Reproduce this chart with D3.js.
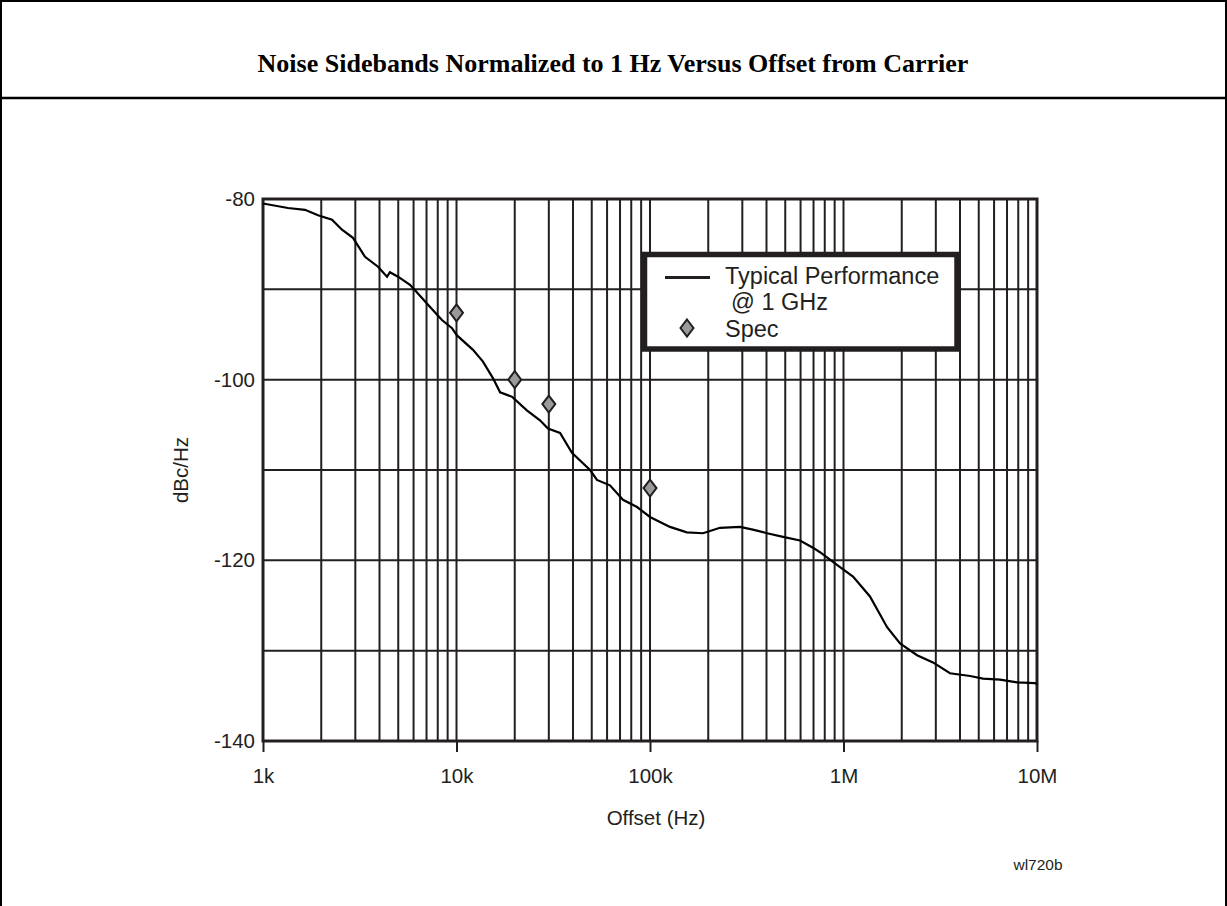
<!DOCTYPE html>
<html>
<head>
<meta charset="utf-8">
<script src="https://cdn.jsdelivr.net/npm/d3@7"></script>
<style>
  body { margin: 0; background: #fff; }
  svg { display: block; }
</style>
</head>
<body>
<svg id="chart"></svg>
<script>
// typical performance trace
var traceFreq = [1000, 1346, 1648, 1925, 2274, 2560, 2918, 3366, 3930, 4375, 4530, 4985, 5750, 6105, 7125,
    8410, 9480, 10060, 12170, 13700, 15400, 16800, 19400, 23100, 27000, 29700, 34300, 39500, 49000, 53200,
    62100, 72500, 85700, 100000, 126800, 155000, 188000, 230000, 292000, 340000, 403000, 487000, 596000,
    695000, 756000, 925000, 1120000, 1370000, 1680000, 1960000, 2400000, 2900000, 3550000, 4510000,
    5260000, 6440000, 7890000, 9770000, 10000000];
var traceDb = [-80.5, -81.0, -81.2, -81.8, -82.3, -83.4, -84.3, -86.4, -87.5, -88.6, -88.1, -88.6, -89.5, -90.1, -91.7,
    -93.4, -94.3, -95.1, -96.7, -98.0, -99.8, -101.4, -101.9, -103.4, -104.5, -105.4, -105.9, -108.1, -110.0, -111.1,
    -111.7, -113.3, -114.1, -115.2, -116.3, -116.9, -117.0, -116.4, -116.3, -116.6, -117.0, -117.4, -117.8,
    -118.6, -119.1, -120.5, -121.8, -124.0, -127.4, -129.2, -130.5, -131.3, -132.5, -132.8,
    -133.1, -133.2, -133.5, -133.6, -133.7];

var specFreq = [10000, 20000, 30000, 100000];
var specDb = [-92.6, -100.0, -102.7, -112.0];

var xTickValues = [1e3, 1e4, 1e5, 1e6, 1e7];
var xTickLabels = ["1k", "10k", "100k", "1M", "10M"];
var yTickValues = [-80, -100, -120, -140];
var yGridValues = [-90, -100, -110, -120, -130];

var W = 1227, H = 906;
var margin = {top: 199, left: 263, right: W - 1037, bottom: H - 741};
var plotW = W - margin.left - margin.right;
var plotH = H - margin.top - margin.bottom;
var ink = "#231f20";
var sans = "'Liberation Sans', Arial, sans-serif";

var svg = d3.select("#chart").attr("width", W).attr("height", H);

// outer frame and title strip
svg.append("rect")
    .attr("x", 1).attr("y", 1)
    .attr("width", W - 2).attr("height", H + 10)
    .attr("fill", "none").attr("stroke", "#000").attr("stroke-width", 2);
svg.append("line")
    .attr("x1", 0).attr("x2", W).attr("y1", 98).attr("y2", 98)
    .attr("stroke", "#000").attr("stroke-width", 2.5);
svg.append("text")
    .attr("x", 613).attr("y", 71.5)
    .attr("text-anchor", "middle")
    .attr("font-family", "'Liberation Serif', 'Times New Roman', serif")
    .attr("font-weight", "bold")
    .attr("font-size", 26)
    .text("Noise Sidebands Normalized to 1 Hz Versus Offset from Carrier");

var x = d3.scaleLog().domain([1e3, 1e7]).range([0, plotW]);
var y = d3.scaleLinear().domain([-140, -80]).range([plotH, 0]);

var g = svg.append("g").attr("transform", "translate(" + margin.left + "," + margin.top + ")");

// log grid: 1..9 in each decade
var vGrid = [];
[1e3, 1e4, 1e5, 1e6].forEach(function (d) {
    for (var k = 1; k <= 9; k++) vGrid.push(d * k);
});
g.selectAll(".vgrid").data(vGrid).enter().append("line")
    .attr("class", "vgrid")
    .attr("x1", function (d) { return x(d); }).attr("x2", function (d) { return x(d); })
    .attr("y1", 0).attr("y2", plotH)
    .attr("stroke", ink).attr("stroke-width", 2);
g.selectAll(".hgrid").data(yGridValues).enter().append("line")
    .attr("class", "hgrid")
    .attr("x1", 0).attr("x2", plotW)
    .attr("y1", function (d) { return y(d); }).attr("y2", function (d) { return y(d); })
    .attr("stroke", ink).attr("stroke-width", 2);

g.append("rect")
    .attr("width", plotW).attr("height", plotH)
    .attr("fill", "none").attr("stroke", ink).attr("stroke-width", 3);

// x axis
var xAxis = g.append("g")
    .attr("transform", "translate(0," + plotH + ")")
    .call(d3.axisBottom(x).tickValues(xTickValues)
        .tickFormat(function (d, i) { return xTickLabels[i]; })
        .tickSize(11).tickPadding(16));
xAxis.select(".domain").remove();
xAxis.selectAll("line").attr("stroke", ink).attr("stroke-width", 2);
xAxis.selectAll("text").attr("font-family", sans).attr("font-size", 20.5).attr("fill", ink);

// y axis (plain hyphen, as in the original)
var yAxis = g.append("g")
    .call(d3.axisLeft(y).tickValues(yTickValues).tickSize(0).tickPadding(8)
        .tickFormat(function (d) { return String(d); }));
yAxis.select(".domain").remove();
yAxis.selectAll("text").attr("font-family", sans).attr("font-size", 20.5).attr("fill", ink);

g.append("text")
    .attr("x", plotW / 2 + 6).attr("y", plotH + 84)
    .attr("text-anchor", "middle")
    .attr("font-family", sans).attr("font-size", 20.5).attr("fill", ink)
    .text("Offset (Hz)");
g.append("text")
    .attr("transform", "translate(-75," + (plotH / 2) + ") rotate(-90)")
    .attr("text-anchor", "middle")
    .attr("font-family", sans).attr("font-size", 20.5).attr("fill", ink)
    .text("dBc/Hz");

// trace
var trace = traceFreq.map(function (f, i) { return {f: f, db: traceDb[i]}; });
g.append("path")
    .datum(trace)
    .attr("fill", "none").attr("stroke", "#000").attr("stroke-width", 2.2)
    .attr("d", d3.line()
        .x(function (d) { return x(d.f); })
        .y(function (d) { return y(d.db); }));

// spec diamonds
var diamond = "M0,-8.5L6.5,0L0,8.5L-6.5,0Z";
g.selectAll(".spec").data(specFreq).enter().append("path")
    .attr("class", "spec")
    .attr("transform", function (d, i) { return "translate(" + x(d) + "," + y(specDb[i]) + ")"; })
    .attr("d", diamond)
    .attr("fill", "#9a9a9a").attr("stroke", ink).attr("stroke-width", 2);

// legend
var lg = svg.append("g");
lg.append("rect")
    .attr("x", 644.5).attr("y", 254.5).attr("width", 312.5).attr("height", 94.5)
    .attr("fill", "#fff").attr("stroke", ink).attr("stroke-width", 5.5);
lg.append("line")
    .attr("x1", 665).attr("x2", 710).attr("y1", 277.5).attr("y2", 277.5)
    .attr("stroke", ink).attr("stroke-width", 3);
lg.append("path")
    .attr("transform", "translate(687,328)")
    .attr("d", diamond)
    .attr("fill", "#9a9a9a").attr("stroke", ink).attr("stroke-width", 2);
[["Typical Performance", 725, 283.5], ["@ 1 GHz", 731, 310], ["Spec", 725, 336.5]].forEach(function (t) {
    lg.append("text")
        .attr("x", t[1]).attr("y", t[2])
        .attr("font-family", sans).attr("font-size", 23.5).attr("fill", ink)
        .text(t[0]);
});

svg.append("text")
    .attr("x", 1038).attr("y", 870)
    .attr("text-anchor", "middle")
    .attr("font-family", sans).attr("font-size", 15.5).attr("fill", ink)
    .text("wl720b");
</script>
</body>
</html>
